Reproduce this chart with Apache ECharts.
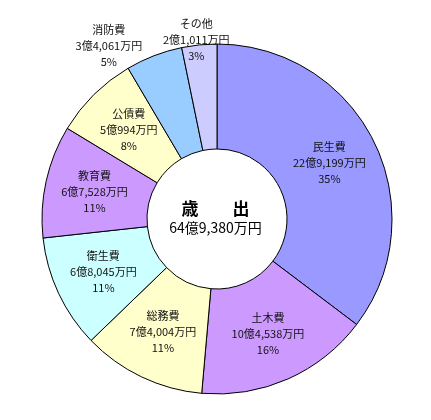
<!DOCTYPE html>
<html>
<head>
<meta charset="utf-8">
<script src="https://cdn.jsdelivr.net/npm/echarts@6/dist/echarts.min.js"></script>
<style>
html,body{margin:0;padding:0;background:#fff;}
#c{width:431px;height:420px;}
</style>
</head>
<body>
<div id="c"></div>
<script>
// values in 万円
const categories = ['民生費','土木費','総務費','衛生費','教育費','公債費','消防費','その他'];
const values = [229199, 104538, 74004, 68045, 67528, 50994, 34061, 21011];
const percents = ['35%','16%','11%','11%','11%','8%','5%','3%'];
const colors = ['#9999FF','#CC99FF','#FFFFCC','#CCFFFF','#CC99FF','#FFFFCC','#99CCFF','#CCCCFF'];
const centerTitle = '歳　　出';
const totalLabel = '64億9,380万円';

function fmt(v){
  const oku = Math.floor(v/10000);
  const man = v % 10000;
  return oku + '億' + man.toLocaleString('en-US') + '万円';
}

const FONT = '"Noto Sans CJK JP", "Noto Sans", sans-serif';
const chart = echarts.init(document.getElementById('c'), null, {renderer:'canvas'});
chart.setOption({
  animation:false,
  backgroundColor:'#fff',
  graphic:[
    {type:'text', left:'center', top:200, style:{text:centerTitle, font:'bold 17px '+FONT, fill:'#000'}},
    {type:'text', left:'center', top:221, style:{text:totalLabel, font:'14px '+FONT, fill:'#000'}}
  ],
  series:[{
    type:'pie',
    center:[217,219],
    radius:[70,175],
    startAngle:90,
    clockwise:true,
    avoidLabelOverlap:false,
    itemStyle:{borderColor:'#000', borderWidth:1},
    label:{
      show:true,
      position:'inside',
      color:'#111',
      fontFamily:FONT,
      fontSize:11,
      lineHeight:16,
      align:'center',
      formatter:p => p.name + '\n' + fmt(p.value) + '\n' + percents[p.dataIndex]
    },
    labelLine:{show:false},
    labelLayout:function(p){
      if(p.dataIndex===6) return {dx:-63, dy:-56};
      if(p.dataIndex===7) return {dx:-8, dy:-54};
      return {};
    },
    emphasis:{disabled:true},
    data:categories.map((n,i)=>({name:n, value:values[i], itemStyle:{color:colors[i]}}))
  }]
});
</script>
</body>
</html>
